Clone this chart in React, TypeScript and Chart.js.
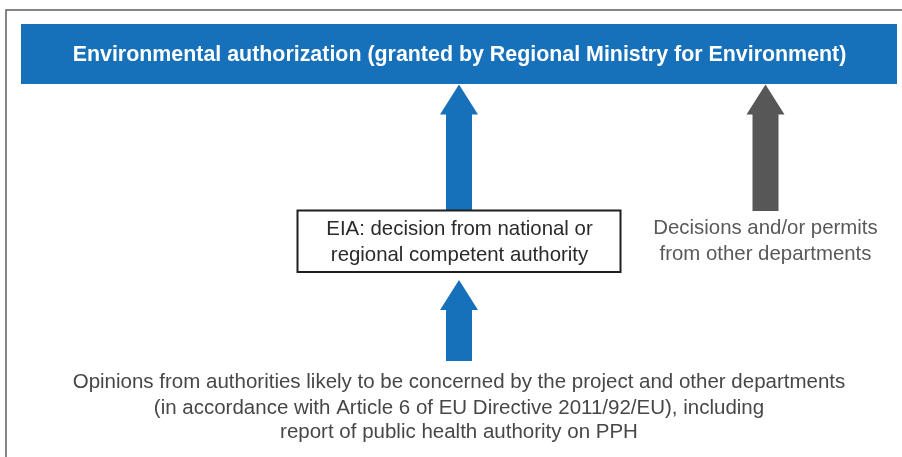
import React, { useEffect, useRef } from "react";
import { Chart, registerables } from "chart.js";

Chart.register(...registerables);

// Diagram content (coordinates in a 902 x 457 diagram space)
const titleText = "Environmental authorization (granted by Regional Ministry for Environment)";
const boxLines = ["EIA: decision from national or", "regional competent authority"];
const sideLines = ["Decisions and/or permits", "from other departments"];
const bottomLines = [
  "Opinions from authorities likely to be concerned by the project and other departments",
  "(in accordance with Article 6 of EU Directive 2011/92/EU), including",
  "report of public health authority on PPH",
];

// Arrows: centre x, tip y, tail y
const arrowNames = ["EIA to authorization", "Other departments to authorization", "Opinions to EIA"];
const arrowX = [459, 765.5, 459];
const arrowTipY = [84.5, 84.5, 280];
const arrowTailY = [211, 211, 361];
const arrowColors = ["#1771BA", "#575757", "#1771BA"];

// Nodes: [x0, y0, x1, y1]
const bannerRect = [21, 24, 897, 84];
const eiaRect = [297.5, 210.5, 620.5, 272];
const frameRect = [6, 10, 920, 480];

// Text anchors
const titleCenter = [459.5, 55];
const boxTextX = 459.5;
const boxTextY = [229, 255];
const sideTextX = 765.5;
const sideTextY = [228, 254];
const bottomTextX = 459;
const bottomTextY = [382, 408, 432];

const FONT = "'Liberation Sans', Arial, Helvetica, sans-serif";

const diagramPlugin = {
  id: "diagram",
  afterDatasetsDraw(chart: any) {
    const ctx = chart.ctx as CanvasRenderingContext2D;
    const xs = chart.scales.x;
    const ys = chart.scales.y;
    const px = (v: number) => xs.getPixelForValue(v);
    const py = (v: number) => ys.getPixelForValue(v);
    ctx.save();

    // outer frame
    ctx.strokeStyle = "#5c5c5c";
    ctx.lineWidth = 1.5;
    ctx.strokeRect(px(frameRect[0]), py(frameRect[1]), px(frameRect[2]) - px(frameRect[0]), py(frameRect[3]) - py(frameRect[1]));

    // banner
    ctx.fillStyle = "#1771BA";
    ctx.fillRect(px(bannerRect[0]), py(bannerRect[1]), px(bannerRect[2]) - px(bannerRect[0]), py(bannerRect[3]) - py(bannerRect[1]));
    ctx.fillStyle = "#ffffff";
    ctx.font = `bold 21.4px ${FONT}`;
    ctx.textAlign = "center";
    ctx.textBaseline = "middle";
    ctx.fillText(titleText, px(titleCenter[0]), py(titleCenter[1]));

    // arrows
    const headHalf = 19;
    const headLen = 30;
    const shaftHalf = 13;
    arrowNames.forEach((_, i) => {
      const cx = px(arrowX[i]);
      const tip = py(arrowTipY[i]);
      const tail = py(arrowTailY[i]);
      ctx.fillStyle = arrowColors[i];
      ctx.beginPath();
      ctx.moveTo(cx, tip);
      ctx.lineTo(cx + headHalf, tip + headLen);
      ctx.lineTo(cx + shaftHalf, tip + headLen);
      ctx.lineTo(cx + shaftHalf, tail);
      ctx.lineTo(cx - shaftHalf, tail);
      ctx.lineTo(cx - shaftHalf, tip + headLen);
      ctx.lineTo(cx - headHalf, tip + headLen);
      ctx.closePath();
      ctx.fill();
    });

    // EIA box
    ctx.fillStyle = "#ffffff";
    ctx.fillRect(px(eiaRect[0]), py(eiaRect[1]), px(eiaRect[2]) - px(eiaRect[0]), py(eiaRect[3]) - py(eiaRect[1]));
    ctx.strokeStyle = "#1f1f1f";
    ctx.lineWidth = 2;
    ctx.strokeRect(px(eiaRect[0]), py(eiaRect[1]), px(eiaRect[2]) - px(eiaRect[0]), py(eiaRect[3]) - py(eiaRect[1]));

    ctx.font = `20.4px ${FONT}`;
    ctx.fillStyle = "#2a2a2a";
    boxLines.forEach((t, i) => ctx.fillText(t, px(boxTextX), py(boxTextY[i])));

    ctx.fillStyle = "#595959";
    sideLines.forEach((t, i) => ctx.fillText(t, px(sideTextX), py(sideTextY[i])));

    ctx.font = `20.5px ${FONT}`;
    ctx.fillStyle = "#474747";
    bottomLines.forEach((t, i) => ctx.fillText(t, px(bottomTextX), py(bottomTextY[i])));

    ctx.restore();
  },
};

export default function App() {
  const ref = useRef<HTMLCanvasElement | null>(null);
  useEffect(() => {
    document.body.style.margin = "0";
    document.body.style.overflow = "hidden";
    const canvas = ref.current;
    if (!canvas) return;
    const chart = new Chart(canvas, {
      type: "scatter",
      data: {
        datasets: [
          {
            label: "arrow tips",
            data: arrowX.map((x, i) => ({ x, y: arrowTipY[i] })),
            pointRadius: 0,
            showLine: false,
          },
        ],
      },
      options: {
        animation: false,
        responsive: false,
        maintainAspectRatio: false,
        layout: { padding: 0 },
        plugins: { legend: { display: false }, tooltip: { enabled: false } },
        scales: {
          x: { type: "linear", min: 0, max: 902, display: false },
          y: { type: "linear", min: 0, max: 457, reverse: true, display: false },
        },
      },
      plugins: [diagramPlugin],
    });
    return () => chart.destroy();
  }, []);
  return (
    <div style={{ width: 902, height: 457, background: "#ffffff" }}>
      <canvas ref={ref} width={902} height={457} style={{ display: "block" }} />
    </div>
  );
}
